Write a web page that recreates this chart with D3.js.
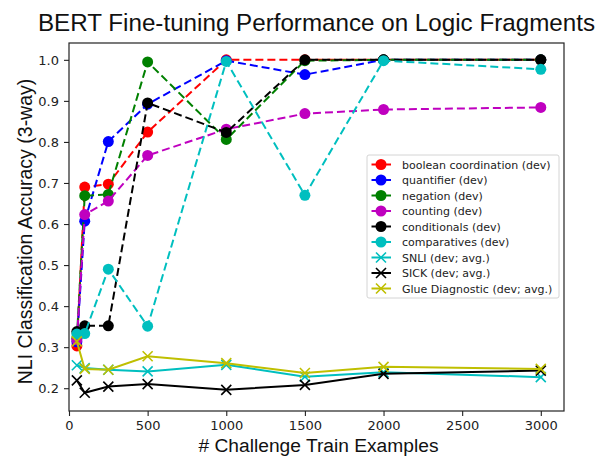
<!DOCTYPE html>
<html>
<head>
<meta charset="utf-8">
<script src="https://cdn.jsdelivr.net/npm/d3@7"></script>
<style>
  html, body { margin: 0; padding: 0; background: #fff; }
  svg { display: block; }
</style>
</head>
<body>
<svg id="chart" width="606" height="457"></svg>
<script>
// Training set sizes (x positions shared by every series)
const trainSizes = [50, 100, 250, 500, 1000, 1500, 2000, 3000];

// Dev accuracy per logic fragment
const booleanCoord = [0.303, 0.690, 0.697, 0.824, 1.000, 1.000, 1.000, 1.000];
const quantifier   = [0.313, 0.607, 0.801, 0.892, 0.998, 0.964, 1.000, 1.000];
const negation     = [0.322, 0.669, 0.672, 0.995, 0.806, 0.998, 1.000, 1.000];
const counting     = [0.318, 0.623, 0.656, 0.767, 0.831, 0.869, 0.879, 0.884];
const conditionals = [0.338, 0.352, 0.352, 0.895, 0.823, 1.000, 1.000, 1.000];
const comparatives = [0.332, 0.333, 0.490, 0.351, 0.996, 0.670, 0.998, 0.977];

// Averaged dev accuracy on external benchmarks
const snli = [0.256, 0.249, 0.245, 0.241, 0.257, 0.228, 0.239, 0.227];
const sick = [0.219, 0.189, 0.204, 0.210, 0.196, 0.208, 0.235, 0.243];
const glue = [0.314, 0.247, 0.245, 0.278, 0.261, 0.237, 0.252, 0.247];

const seriesNames = [
  "boolean coordination (dev)", "quantifier (dev)", "negation (dev)",
  "counting (dev)", "conditionals (dev)", "comparatives (dev)",
  "SNLI (dev; avg.)", "SICK (dev; avg.)", "Glue Diagnostic (dev; avg.)"
];
const seriesValues = [booleanCoord, quantifier, negation, counting,
  conditionals, comparatives, snli, sick, glue];

const xTicks = [0, 500, 1000, 1500, 2000, 2500, 3000];
const yTicks = [0.2, 0.3, 0.4, 0.5, 0.6, 0.7, 0.8, 0.9, 1.0];

const titleText = "BERT Fine-tuning Performance on Logic Fragments";
const xLabel = "# Challenge Train Examples";
const yLabel = "NLI Classification Accuracy (3-way)";

// Styling per series
const colors = ["#ff0000", "#0000ff", "#008000", "#bf00bf", "#000000",
  "#00bfbf", "#00bfbf", "#000000", "#bfbf00"];
const kinds = ["dot", "dot", "dot", "dot", "dot", "dot", "cross", "cross", "cross"];

const series = seriesNames.map((name, i) => ({
  name, color: colors[i], kind: kinds[i],
  points: trainSizes.map((x, j) => ({ x, y: seriesValues[i][j] }))
}));

// Layout
const plot = { left: 69, right: 564, top: 43, bottom: 411 };
const svg = d3.select("#chart");

const x = d3.scaleLinear().domain([0, 3147.5]).range([plot.left, plot.right]);
const y = d3.scaleLinear().domain([0.1445, 1.041]).range([plot.bottom, plot.top]);

// Axes
const tickFont = "'DejaVu Sans', sans-serif";
const xAxis = svg.append("g")
  .attr("transform", `translate(0,${plot.bottom})`)
  .call(d3.axisBottom(x).tickValues(xTicks).tickFormat(d3.format("d")).tickSize(5).tickPadding(5));
const yAxis = svg.append("g")
  .attr("transform", `translate(${plot.left},0)`)
  .call(d3.axisLeft(y).tickValues(yTicks).tickFormat(d3.format(".1f")).tickSize(5).tickPadding(5));
[xAxis, yAxis].forEach(g => {
  g.select(".domain").remove();
  g.selectAll(".tick line").attr("stroke", "#222").attr("stroke-width", 1.1);
  g.selectAll(".tick text").attr("fill", "#222")
    .style("font-family", tickFont).style("font-size", "13px");
});

// Clip lines to the axes area
svg.append("clipPath").attr("id", "plotClip")
  .append("rect")
  .attr("x", plot.left).attr("y", plot.top)
  .attr("width", plot.right - plot.left).attr("height", plot.bottom - plot.top);

const line = d3.line().x(d => x(d.x)).y(d => y(d.y));
const marks = svg.append("g").attr("clip-path", "url(#plotClip)");

function drawCross(g, cx, cy, r, color) {
  g.append("path")
    .attr("d", `M${cx - r},${cy - r}L${cx + r},${cy + r}M${cx - r},${cy + r}L${cx + r},${cy - r}`)
    .attr("stroke", color).attr("stroke-width", 1.6).attr("fill", "none");
}

series.forEach(s => {
  const g = marks.append("g");
  g.append("path")
    .datum(s.points)
    .attr("d", line)
    .attr("fill", "none")
    .attr("stroke", s.color)
    .attr("stroke-width", 2)
    .attr("stroke-dasharray", s.kind === "dot" ? "8,4" : null);
  s.points.forEach(p => {
    if (s.kind === "dot") {
      g.append("circle").attr("cx", x(p.x)).attr("cy", y(p.y)).attr("r", 5.5).attr("fill", s.color);
    } else {
      drawCross(g, x(p.x), y(p.y), 5, s.color);
    }
  });
});

// Frame
svg.append("rect")
  .attr("x", plot.left).attr("y", plot.top)
  .attr("width", plot.right - plot.left).attr("height", plot.bottom - plot.top)
  .attr("fill", "none").attr("stroke", "#222").attr("stroke-width", 1.2);

// Legend
const legend = { x: 367, y: 155, w: 192, h: 143, row: 15.5, first: 164.5 };
svg.append("rect")
  .attr("x", legend.x).attr("y", legend.y).attr("width", legend.w).attr("height", legend.h)
  .attr("rx", 2).attr("fill", "#fff").attr("fill-opacity", 0.85)
  .attr("stroke", "#d4d4d4").attr("stroke-width", 1);
series.forEach((s, i) => {
  const cy = legend.first + i * legend.row;
  const g = svg.append("g");
  g.append("line").attr("x1", 371.5).attr("x2", 391).attr("y1", cy).attr("y2", cy)
    .attr("stroke", s.color).attr("stroke-width", 2);
  if (s.kind === "dot") {
    g.append("circle").attr("cx", 381).attr("cy", cy).attr("r", 5.5).attr("fill", s.color);
  } else {
    drawCross(g, 381, cy, 5, s.color);
  }
  g.append("text").attr("x", 402).attr("y", cy + 4)
    .style("font-family", tickFont).style("font-size", "11px").attr("fill", "#222")
    .text(s.name);
});

// Title and axis labels
const labelFont = "'Liberation Sans', Arial, sans-serif";
svg.append("text")
  .attr("x", (plot.left + plot.right) / 2).attr("y", 31)
  .attr("text-anchor", "middle")
  .style("font-family", labelFont).style("font-size", "24.2px").attr("fill", "#111")
  .text(titleText);
svg.append("text")
  .attr("x", (plot.left + plot.right) / 2 + 2).attr("y", 452)
  .attr("text-anchor", "middle")
  .style("font-family", labelFont).style("font-size", "19.2px").attr("fill", "#111")
  .text(xLabel);
svg.append("text")
  .attr("transform", `translate(32,231.5) rotate(-90)`)
  .attr("text-anchor", "middle")
  .style("font-family", labelFont).style("font-size", "19.5px").attr("fill", "#111")
  .text(yLabel);
</script>
</body>
</html>
